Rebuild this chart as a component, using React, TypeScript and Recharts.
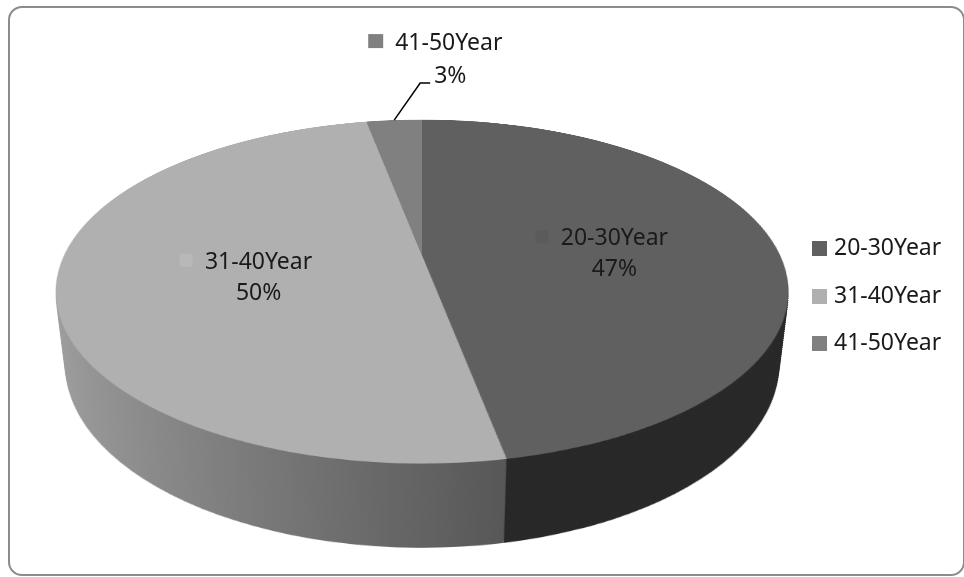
import React from "react";
import { PieChart, Pie, Cell, Legend } from "recharts";

// age groups and their share of respondents (%)
const groups = ["20-30Year", "31-40Year", "41-50Year"];
const shares = [47, 50, 3];

const topColors = ["#606060", "#b0b0b0", "#808080"];
const sideColors = ["#282828", "url(#sideShade)", "#4a4a4a"];
const keyColors = ["#5b5b5b", "#b8b8b8", "#808080"];

const slices = groups.map((g, i) => ({ group: g, share: shares[i] }));

// fake 3d pie: same disc drawn many times, tilted with css perspective
const OX = 422;
const OY = 255;
const R = 358;
const PERSP = 1496;
const TILT = 62.7;
const DEPTH = 83;
const STEPS = 42;
const BOX = 2 * R + 20;
const FONT = "'Noto Sans', sans-serif";
const INK = "#1a1a1a";

// where a point of the flat disc ends up on screen
function project(cx: number, cy: number, r: number, angle: number) {
  const rad = (angle * Math.PI) / 180;
  const t = (TILT * Math.PI) / 180;
  const dx = r * Math.cos(rad);
  const dy = -r * Math.sin(rad);
  const s = PERSP / (PERSP - dy * Math.sin(t));
  return { x: cx + dx * s, y: cy + dy * Math.cos(t) * s };
}

function Disc(props: { z: number; fills: string[] }) {
  return (
    <div
      style={{
        position: "absolute",
        left: OX - BOX / 2,
        top: OY - BOX / 2,
        width: BOX,
        height: BOX,
        transformOrigin: "50% 50%",
        transform: `perspective(${PERSP}px) rotateX(${TILT}deg) translateZ(${props.z}px)`,
      }}
    >
      <PieChart width={BOX} height={BOX} margin={{ top: 0, right: 0, bottom: 0, left: 0 }}>
        <Pie
          data={slices}
          dataKey="share"
          nameKey="group"
          cx="50%"
          cy="50%"
          outerRadius={R}
          startAngle={90}
          endAngle={-270}
          stroke="none"
          isAnimationActive={false}
        >
          {props.fills.map((f, i) => (
            <Cell key={i} fill={f} />
          ))}
        </Pie>
      </PieChart>
    </div>
  );
}

const renderLabel = (p: any) => {
  const pct = `${Math.round(p.percent * 100)}%`;
  if (p.index === 2) {
    // small slice: label sits above the pie with a leader line
    const rim = project(p.cx, p.cy, p.outerRadius, p.midAngle);
    const ex = rim.x + 36;
    const ey = rim.y - 37;
    return (
      <g>
        <polyline
          points={`${rim.x},${rim.y} ${ex - 10},${ey} ${ex},${ey}`}
          fill="none"
          stroke="#000"
          strokeWidth={1.5}
        />
        <rect x={ex - 62} y={ey - 49} width={15} height={14} fill={keyColors[p.index]} />
        <text x={ex - 35} y={ey - 33} fill={INK} fontSize={23} fontFamily={FONT}>
          {p.name}
        </text>
        <text x={ex + 4} y={ey} fill={INK} fontSize={23} fontFamily={FONT}>
          {pct}
        </text>
      </g>
    );
  }
  const c = project(p.cx, p.cy, p.outerRadius * 0.5, p.midAngle);
  const tx = c.x + 16;
  const y = c.y + 5;
  return (
    <g>
      <rect x={tx - 79} y={y - 22} width={13} height={13} fill={keyColors[p.index]} />
      <text x={tx} y={y - 7} textAnchor="middle" fill={INK} fontSize={23} fontFamily={FONT}>
        {p.name}
      </text>
      <text x={tx} y={y + 24} textAnchor="middle" fill={INK} fontSize={23} fontFamily={FONT}>
        {pct}
      </text>
    </g>
  );
};

export default function App() {
  const sideLayers = Array.from({ length: STEPS }, (_, i) => -DEPTH * (STEPS - i) / STEPS);
  return (
    <div
      style={{
        position: "absolute",
        left: 0,
        top: 0,
        width: 964,
        height: 577,
        overflow: "hidden",
        background: "#fff",
        fontFamily: FONT,
      }}
    >
      <svg width={0} height={0} style={{ position: "absolute" }}>
        <defs>
          <linearGradient id="sideShade" gradientUnits="userSpaceOnUse" x1={BOX / 2 - R} y1={0} x2={BOX / 2 + 60} y2={0}>
            <stop offset="0%" stopColor="#a0a0a0" />
            <stop offset="100%" stopColor="#585858" />
          </linearGradient>
        </defs>
      </svg>
      <div
        style={{
          position: "absolute",
          left: 8,
          top: 6,
          width: 953,
          height: 566,
          border: "2px solid #8c8c8c",
          borderRadius: 14,
        }}
      />
      {sideLayers.map((z, i) => (
        <Disc key={i} z={z} fills={sideColors} />
      ))}
      <Disc z={0} fills={topColors} />
      <div style={{ position: "absolute", left: 0, top: 0 }}>
        <PieChart width={964} height={577} margin={{ top: 0, right: 0, bottom: 0, left: 0 }}>
          <Pie
            data={slices}
            dataKey="share"
            nameKey="group"
            cx={OX}
            cy={OY}
            outerRadius={R}
            startAngle={90}
            endAngle={-270}
            stroke="none"
            legendType="square"
            label={renderLabel}
            labelLine={false}
            isAnimationActive={false}
          >
            {topColors.map((f, i) => (
              <Cell key={i} fill={f} fillOpacity={0} />
            ))}
          </Pie>
          <Legend
            layout="vertical"
            align="right"
            verticalAlign="top"
            iconSize={15}
            wrapperStyle={{ left: 812, top: 223, width: 150, fontSize: 23, lineHeight: "47.5px", fontFamily: FONT }}
            formatter={(v: any) => <span style={{ color: INK, marginLeft: 3 }}>{v}</span>}
          />
        </PieChart>
      </div>
    </div>
  );
}
